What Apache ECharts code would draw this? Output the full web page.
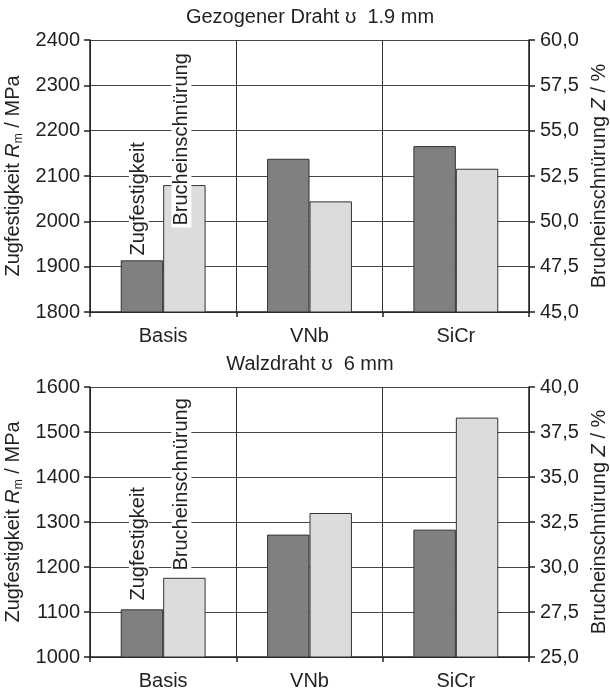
<!DOCTYPE html>
<html>
<head>
<meta charset="utf-8">
<script src="https://cdn.jsdelivr.net/npm/echarts@6/dist/echarts.min.js"></script>
<style>
  html, body { margin: 0; padding: 0; background: #fff; }
  #chart { width: 610px; height: 692px; }
</style>
</head>
<body>
<div id="chart"></div>
<script>
// Kategorien und Messwerte
var kategorien = ['Basis', 'VNb', 'SiCr'];
var drahtZug = [1914, 2138, 2166];      // Gezogener Draht, Rm in MPa
var drahtBruch = [52.0, 51.1, 52.9];    // Gezogener Draht, Z in %
var walzZug = [1106, 1272, 1283];       // Walzdraht, Rm in MPa
var walzBruch = [29.4, 33.0, 38.3];     // Walzdraht, Z in %
// Achsenbereiche [min, max, interval]
var drahtZugAchse = [1800, 2400, 100];
var drahtBruchAchse = [45, 60, 2.5];
var walzZugAchse = [1000, 1600, 100];
var walzBruchAchse = [25, 40, 2.5];

var textFarbe = '#231f20';
var schrift = 'Liberation Sans, Arial, sans-serif';

var dom = document.getElementById('chart');
var myChart = echarts.init(dom);

//Beschriftung nur am ersten Balken (offset gilt im gedrehten System)
var mitLabel = function(werte, text, abstand) {
	return werte.map(function(v, i) {
		if (i != 0) return v;
		return {
			value: v,
			label: {
				show: true,
				formatter: text,
				position: 'insideBottom',
				distance: 0,
				offset: [abstand, -3],
				rotate: 90,
				align: 'left',
				verticalAlign: 'middle',
				color: textFarbe,
				fontSize: 20,
				fontFamily: schrift,
				backgroundColor: '#fff',
				padding: [0, 2]
			}
		};
	});
}

var xAchse = function(idx) {
	return {
		type: 'category',
		gridIndex: idx,
		data: kategorien,
		axisLine: { lineStyle: { color: textFarbe, width: 1.5 } },
		axisTick: { show: true, length: 5, lineStyle: { color: textFarbe, width: 1.5 } },
		axisLabel: { fontSize: 20, color: textFarbe, fontFamily: schrift, margin: 14 },
		splitLine: { show: true, lineStyle: { color: '#333', width: 1 } }
	};
}

var yLinks = function(idx, achse) {
	return {
		type: 'value',
		gridIndex: idx,
		position: 'left',
		min: achse[0], max: achse[1], interval: achse[2],
		name: '{n|Zugfestigkeit }{i|R}{s|m}{n| / MPa}',
		nameLocation: 'middle',
		nameRotate: 90,
		nameGap: 62,
		nameTextStyle: {
			color: textFarbe,
			fontFamily: schrift,
			rich: {
				n: { fontSize: 20, fontFamily: schrift, color: textFarbe, lineHeight: 22 },
				i: { fontSize: 20, fontFamily: schrift, color: textFarbe, fontStyle: 'italic', lineHeight: 22 },
				s: { fontSize: 12, fontFamily: schrift, color: textFarbe, verticalAlign: 'bottom', lineHeight: 14 }
			}
		},
		axisLine: { show: true, lineStyle: { color: textFarbe, width: 1.5 } },
		axisTick: { show: true, length: 6, lineStyle: { color: textFarbe, width: 1.5 } },
		axisLabel: {
			fontSize: 20, color: textFarbe, fontFamily: schrift, margin: 10,
			formatter: function(v) { return String(v); }
		},
		splitLine: { show: true, lineStyle: { color: '#444', width: 1 } }
	};
}

var yRechts = function(idx, achse) {
	return {
		type: 'value',
		gridIndex: idx,
		position: 'right',
		min: achse[0], max: achse[1], interval: achse[2],
		name: '{n|Brucheinschnürung }{i|Z}{n| / %}',
		nameLocation: 'middle',
		nameRotate: 90,
		nameGap: 57,
		nameTextStyle: {
			color: textFarbe,
			fontFamily: schrift,
			rich: {
				n: { fontSize: 20, fontFamily: schrift, color: textFarbe },
				i: { fontSize: 20, fontFamily: schrift, color: textFarbe, fontStyle: 'italic' }
			}
		},
		axisLine: { show: true, lineStyle: { color: textFarbe, width: 1.5 } },
		axisTick: { show: true, length: 6, lineStyle: { color: textFarbe, width: 1.5 } },
		axisLabel: {
			fontSize: 20, color: textFarbe, fontFamily: schrift, margin: 11,
			formatter: function(v) { return v.toFixed(1).replace('.', ','); }
		},
		splitLine: { show: false }
	};
}

var balken = function(xi, yi, daten, farbe) {
	return {
		type: 'bar',
		xAxisIndex: xi,
		yAxisIndex: yi,
		data: daten,
		barWidth: '29%',
		barGap: '0%',
		itemStyle: { color: farbe, borderColor: '#333', borderWidth: 1 },
		emphasis: { disabled: true }
	};
}

var option = {
	backgroundColor: '#fff',
	animation: false,
	title: [
		{ text: 'Gezogener Draht \u028a  1.9 mm', left: 310, top: 7, textAlign: 'center', padding: 0,
		  textStyle: { fontSize: 20, fontWeight: 'normal', color: textFarbe, fontFamily: schrift } },
		{ text: 'Walzdraht \u028a  6 mm', left: 310, top: 354, textAlign: 'center', padding: 0,
		  textStyle: { fontSize: 20, fontWeight: 'normal', color: textFarbe, fontFamily: schrift } }
	],
	grid: [
		{ left: 90, right: 81, top: 40, height: 272, outerBoundsMode: 'none', containLabel: false },
		{ left: 90, right: 81, top: 387, height: 270, outerBoundsMode: 'none', containLabel: false }
	],
	xAxis: [xAchse(0), xAchse(1)],
	yAxis: [
		yLinks(0, drahtZugAchse), yRechts(0, drahtBruchAchse),
		yLinks(1, walzZugAchse), yRechts(1, walzBruchAchse)
	],
	series: [
		balken(0, 0, mitLabel(drahtZug, 'Zugfestigkeit', 55), '#808080'),
		balken(0, 1, mitLabel(drahtBruch, 'Brucheinschnürung', 85), '#dcdcdc'),
		balken(1, 2, mitLabel(walzZug, 'Zugfestigkeit', 55), '#808080'),
		balken(1, 3, mitLabel(walzBruch, 'Brucheinschnürung', 85), '#dcdcdc')
	]
};

if (option && typeof option === "object") {
	myChart.setOption(option, true);
}
</script>
</body>
</html>
